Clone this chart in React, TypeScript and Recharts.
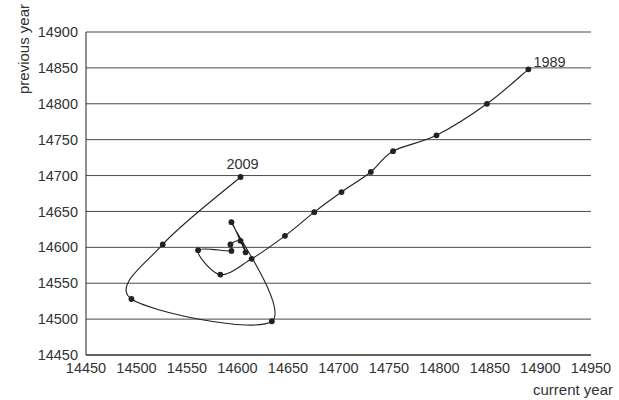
import { ScatterChart, Scatter, XAxis, YAxis, CartesianGrid, LabelList } from 'recharts'

const currentYear = [14888, 14847, 14797, 14754, 14732, 14703, 14676, 14647, 14614, 14583, 14561, 14594, 14593, 14603, 14608, 14594, 14634, 14495, 14526, 14603]
const previousYear = [14848, 14800, 14756, 14734, 14705, 14677, 14649, 14616, 14584, 14562, 14596, 14595, 14604, 14609, 14593, 14635, 14497, 14528, 14604, 14698]
const pointLabels = ['1989', '', '', '', '', '', '', '', '', '', '', '', '', '', '', '', '', '', '', '2009']

const xTicks = [14450, 14500, 14550, 14600, 14650, 14700, 14750, 14800, 14850, 14900, 14950]
const yTicks = [14450, 14500, 14550, 14600, 14650, 14700, 14750, 14800, 14850, 14900]

const data = currentYear.map((x, i) => ({ x, y: previousYear[i], label: pointLabels[i] || undefined }))

const FONT = '"Liberation Sans", Arial, sans-serif'
const INK = '#222'

const dist = (a: number[], b: number[]) => Math.hypot(b[0] - a[0], b[1] - a[1])

// Excel-style smoothed line: Catmull-Rom beziers, control arms capped at half the segment
function smoothCurve(context: any) {
  let pts: number[][] = []
  return {
    areaStart() {},
    areaEnd() {},
    lineStart() {
      pts = []
    },
    point(x: number, y: number) {
      pts.push([+x, +y])
    },
    lineEnd() {
      if (!pts.length) return
      context.moveTo(pts[0][0], pts[0][1])
      for (let i = 0; i < pts.length - 1; i++) {
        const p0 = pts[i - 1] || pts[i]
        const p1 = pts[i]
        const p2 = pts[i + 1]
        const p3 = pts[i + 2] || p2
        const d12 = dist(p1, p2)
        const d02 = dist(p0, p2)
        const d13 = dist(p1, p3)
        const f1 = d02 / 6 > d12 / 2 ? d12 / (2 * d02) : 1 / 6
        const f2 = d13 / 6 > d12 / 2 ? d12 / (2 * d13) : 1 / 6
        context.bezierCurveTo(
          p1[0] + (p2[0] - p0[0]) * f1,
          p1[1] + (p2[1] - p0[1]) * f1,
          p2[0] - (p3[0] - p1[0]) * f2,
          p2[1] - (p3[1] - p1[1]) * f2,
          p2[0],
          p2[1]
        )
      }
    },
  }
}

function PointLabel(props: any) {
  const { value, index } = props
  if (!value) return null
  const vb = props.viewBox || props
  const cx = vb.x + (vb.width || 0) / 2
  const cy = vb.y + (vb.height || 0) / 2
  const first = index === 0
  return (
    <text
      x={first ? cx + 5 : cx + 2}
      y={first ? cy - 7 : cy - 13}
      textAnchor={first ? 'start' : 'middle'}
      dominantBaseline="central"
      fontSize={14.5}
      fontFamily={FONT}
      fill="#333"
    >
      {value}
    </text>
  )
}

export default function App() {
  return (
    <div style={{ position: 'absolute', left: 0, top: 0, background: '#fff' }}>
      <ScatterChart width={619} height={400} margin={{ top: 32, right: 28, bottom: 0, left: 0 }}>
        <CartesianGrid vertical={false} stroke="#4a4a4a" strokeWidth={1} />
        <XAxis
          type="number"
          dataKey="x"
          domain={[14450, 14950]}
          ticks={xTicks}
          interval={0}
          height={45}
          tickLine={false}
          axisLine={{ stroke: INK }}
          tick={{ fontSize: 14.5, fontFamily: FONT, fill: '#333' }}
          label={{
            content: () => (
              <text x={613} y={389} textAnchor="end" dominantBaseline="central" fontSize={15} fontFamily={FONT} fill="#333">
                current year
              </text>
            ),
          }}
        />
        <YAxis
          type="number"
          dataKey="y"
          domain={[14450, 14900]}
          ticks={yTicks}
          interval={0}
          width={86}
          tickLine={false}
          axisLine={{ stroke: INK }}
          tick={{ fontSize: 14.5, fontFamily: FONT, fill: '#333' }}
          label={{
            content: () => (
              <text
                x={23}
                y={49}
                transform="rotate(-90 23 49)"
                textAnchor="middle"
                dominantBaseline="central"
                fontSize={15}
                fontFamily={FONT}
                fill="#333"
              >
                previous year
              </text>
            ),
          }}
        />
        <Scatter
          data={data}
          fill={INK}
          line={{ stroke: INK, strokeWidth: 1.1 }}
          lineType="joint"
          lineJointType={smoothCurve as any}
          shape={(p: any) => <circle cx={p.cx} cy={p.cy} r={2.9} fill={INK} />}
          isAnimationActive={false}
        >
          <LabelList dataKey="label" content={PointLabel} />
        </Scatter>
      </ScatterChart>
    </div>
  )
}
